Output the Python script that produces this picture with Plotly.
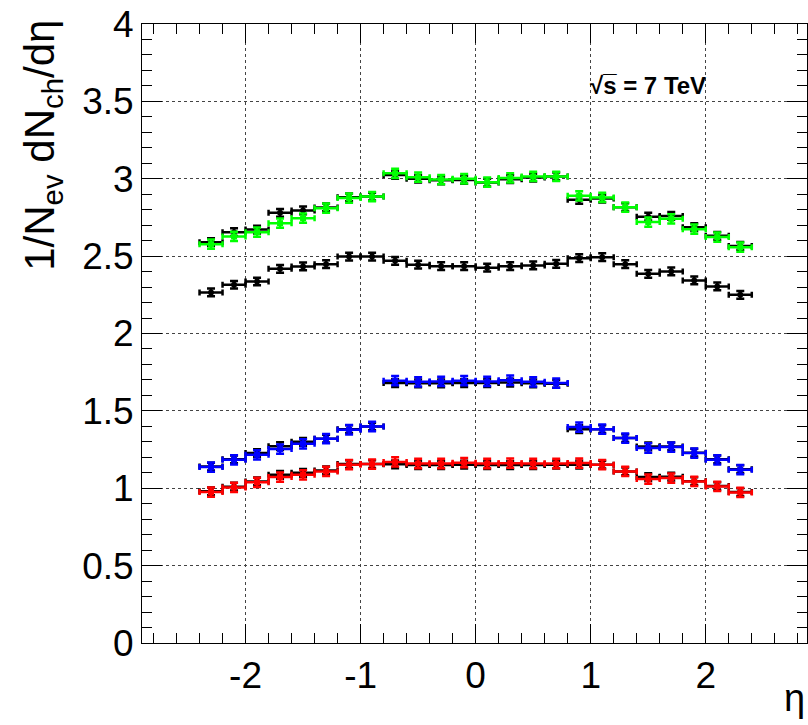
import plotly.graph_objects as go

# bin centres (bin width 0.2)
eta = [-2.3, -2.1, -1.9, -1.7, -1.5, -1.3, -1.1, -0.9,
       -0.7, -0.5, -0.3, -0.1, 0.1, 0.3, 0.5, 0.7,
       0.9, 1.1, 1.3, 1.5, 1.7, 1.9, 2.1, 2.3]
half_width = [0.1] * 24

green_mc = [2.577, 2.627, 2.655, 2.713, 2.745, 2.810, 2.875, 2.885,
            3.035, 3.010, 2.995, 3.000, 2.978, 3.005, 3.015, 3.015,
            2.890, 2.879, 2.816, 2.720, 2.741, 2.674, 2.623, 2.558]
black_top = [2.590, 2.655, 2.672, 2.780, 2.795, 2.815, 2.880, 2.885,
             3.025, 3.000, 2.990, 2.992, 2.975, 2.997, 3.008, 3.015,
             2.864, 2.872, 2.816, 2.755, 2.760, 2.687, 2.631, 2.566]
black_mid = [2.265, 2.315, 2.336, 2.418, 2.433, 2.448, 2.497, 2.497,
             2.470, 2.445, 2.435, 2.435, 2.425, 2.435, 2.440, 2.450,
             2.487, 2.493, 2.448, 2.386, 2.401, 2.343, 2.304, 2.250]
blue_mc = [1.137, 1.184, 1.216, 1.253, 1.287, 1.320, 1.378, 1.399,
           1.695, 1.688, 1.690, 1.695, 1.690, 1.698, 1.688, 1.680,
           1.395, 1.382, 1.324, 1.260, 1.266, 1.227, 1.184, 1.120]
black_blue = [1.140, 1.187, 1.227, 1.272, 1.300, 1.320, 1.382, 1.399,
              1.680, 1.678, 1.678, 1.680, 1.680, 1.683, 1.678, 1.675,
              1.382, 1.382, 1.324, 1.270, 1.270, 1.230, 1.187, 1.123]
red_mc = [0.975, 1.005, 1.038, 1.072, 1.087, 1.109, 1.152, 1.156,
          1.170, 1.160, 1.160, 1.165, 1.160, 1.162, 1.160, 1.160,
          1.163, 1.152, 1.109, 1.059, 1.066, 1.044, 1.012, 0.973]
black_red = [0.980, 1.010, 1.044, 1.087, 1.100, 1.115, 1.156, 1.156,
             1.155, 1.150, 1.150, 1.152, 1.150, 1.150, 1.150, 1.152,
             1.152, 1.152, 1.109, 1.072, 1.075, 1.046, 1.014, 0.975]

err_mc = [0.03] * 24
err_data = [0.025] * 24

y_ticks = [0, 0.5, 1, 1.5, 2, 2.5, 3, 3.5, 4]
y_tick_text = ["0", "0.5", "1", "1.5", "2", "2.5", "3", "3.5", "4"]
x_ticks = [-2, -1, 0, 1, 2]
x_tick_text = ["-2", "-1", "0", "1", "2"]

fig = go.Figure()


def add_series(y, err, color, symbol):
    fig.add_trace(go.Scatter(
        x=eta, y=y, mode="markers",
        marker=dict(color=color, symbol=symbol, size=6),
        error_x=dict(type="data", array=half_width, color=color,
                     thickness=2.5, width=3),
        error_y=dict(type="data", array=err, color=color,
                     thickness=2.5, width=4),
        showlegend=False, hoverinfo="x+y"))


add_series(black_top, err_data, "black", "circle")
add_series(black_mid, err_data, "black", "circle")
add_series(black_blue, err_data, "black", "circle")
add_series(black_red, err_data, "black", "circle")
add_series(green_mc, err_mc, "#00ff00", "square")
add_series(blue_mc, err_mc, "#0000ff", "square")
add_series(red_mc, err_mc, "#ff0000", "square")

font_family = "Liberation Sans, Arial, sans-serif"

fig.update_layout(
    width=808, height=725,
    margin=dict(l=142, r=1, t=24, b=82),
    paper_bgcolor="white", plot_bgcolor="white",
    font=dict(family=font_family, color="black"),
    xaxis=dict(range=[-2.9, 2.88], tickvals=x_ticks, ticktext=x_tick_text,
               automargin=False,
               ticks="inside", ticklen=19, tickwidth=1, tickcolor="black",
               showline=True, linecolor="black", linewidth=1, mirror="allticks",
               showgrid=True, gridcolor="#444444", griddash="dot", gridwidth=1,
               zeroline=False, tickfont=dict(size=37),
               minor=dict(dtick=0.2, tick0=0, ticks="inside", ticklen=10,
                          tickcolor="black", showgrid=False)),
    yaxis=dict(range=[0, 4], tickvals=y_ticks, ticktext=y_tick_text,
               automargin=False,
               ticks="inside", ticklen=20, tickwidth=1, tickcolor="black",
               showline=True, linecolor="black", linewidth=1, mirror="allticks",
               showgrid=True, gridcolor="#444444", griddash="dot", gridwidth=1,
               zeroline=False, tickfont=dict(size=37),
               minor=dict(dtick=0.1, tick0=0, ticks="inside", ticklen=10,
                          tickcolor="black", showgrid=False)),
)

fig.add_annotation(x=-0.150, y=1.0097, xref="paper", yref="paper",
                   xanchor="center", yanchor="top", textangle=-90,
                   text="1/N<sub>ev</sub> dN<sub>ch</sub>/dη", showarrow=False,
                   font=dict(size=42, family=font_family, color="black"))
fig.add_annotation(x=1.5, y=3.6, xref="x", yref="y",
                   text="<b>√s\u0305 = 7 TeV</b>", showarrow=False,
                   font=dict(size=24, family=font_family, color="black"))
fig.add_annotation(x=1.0, y=-0.052, xref="paper", yref="paper",
                   xanchor="right", yanchor="top", text="η", showarrow=False,
                   font=dict(size=38, family=font_family, color="black"))

fig.write_html("out.html", config={"displayModeBar": False},
               post_script="document.body.style.margin='0px';")
